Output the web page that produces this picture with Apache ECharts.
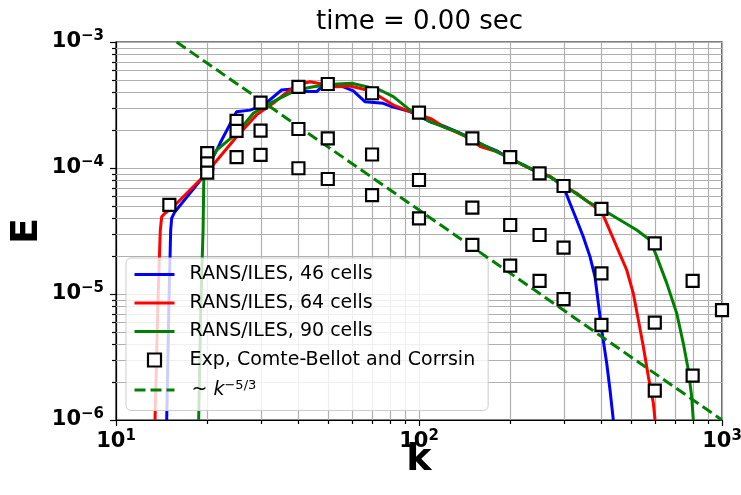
<!DOCTYPE html>
<html>
<head>
<meta charset="utf-8">
<script src="https://cdn.jsdelivr.net/npm/echarts@6/dist/echarts.min.js"></script>
<style>
  html, body { margin: 0; padding: 0; background: #fff; }
  #chart { width: 741px; height: 495px; }
</style>
</head>
<body>
<div id="chart"></div>
<script>
// Energy spectra E(k) of the three RANS/ILES grids
const k46 = [14.7, 14.96, 15.15, 15.27, 15.65, 19.4, 22.05, 25.0, 27.7, 30.7, 35.2, 37.5, 42.6, 46.0, 48.3, 56.3, 60.7, 66.3, 76.2, 81.3, 93.4, 108.7, 120.3, 133.2, 147.3, 163, 180.5, 199.7, 220.9, 244.5, 270.5, 299.4, 315, 331.5, 348.5, 366.7, 380.9, 390.7, 400.9, 416.4, 427, 437.8];
const e46 = [1.0e-6, 9.0e-6, 3.2e-5, 4.0e-5, 4.5e-5, 8.5e-5, 1.57e-4, 2.8e-4, 2.88e-4, 3.16e-4, 4.16e-4, 4.21e-4, 4.04e-4, 4.04e-4, 4.56e-4, 4.41e-4, 4.1e-4, 3.36e-4, 3.26e-4, 3.07e-4, 2.8e-4, 2.33e-4, 2.16e-4, 1.94e-4, 1.74e-4, 1.52e-4, 1.37e-4, 1.19e-4, 1.06e-4, 9.35e-5, 8.53e-5, 7.2e-5, 5.25e-5, 3.87e-5, 2.85e-5, 1.98e-5, 1.37e-5, 8.43e-6, 5.18e-6, 2.82e-6, 1.73e-6, 1.0e-6];

const k64 = [13.45, 13.76, 14.0, 14.15, 14.5, 15.46, 19.4, 25.0, 29.1, 33.0, 35.6, 39.5, 43.7, 49.6, 53.5, 59.2, 67.2, 74.3, 82.3, 93.4, 110, 120.3, 133.2, 147.3, 159.2, 180.5, 199.7, 220.9, 244.5, 270.5, 299.4, 331.5, 360, 400.9, 416.4, 449.3, 484.8, 509.7, 529.6, 550.1, 571.4, 593.5, 601.2];
const e64 = [1.0e-6, 9.0e-6, 3.2e-5, 4.1e-5, 4.37e-5, 4.93e-5, 8.53e-5, 1.77e-4, 2.64e-4, 3.26e-4, 3.79e-4, 4.56e-4, 4.84e-4, 4.56e-4, 4.41e-4, 4.48e-4, 4.16e-4, 3.68e-4, 3.16e-4, 2.8e-4, 2.45e-4, 2.13e-4, 1.92e-4, 1.72e-4, 1.48e-4, 1.35e-4, 1.2e-4, 1.05e-4, 9.4e-5, 8.6e-5, 7.3e-5, 6.3e-5, 5.42e-5, 4.5e-5, 3.64e-5, 2.37e-5, 1.55e-5, 1.01e-5, 6.22e-6, 3.82e-6, 2.21e-6, 1.36e-6, 1.0e-6];

const k90 = [18.74, 19.07, 19.38, 19.5, 21.5, 25.0, 28.4, 32.2, 35.6, 39.5, 44.8, 53.5, 60.0, 67.2, 74.3, 82.3, 93.4, 108.7, 120.3, 133.2, 147.3, 163, 180.5, 199.7, 220.9, 244.5, 270.5, 299.4, 331.5, 360, 405.8, 460.7, 523.1, 578.6, 609, 657, 708.8, 745.3, 774.2, 794.3, 804];
const e90 = [1.0e-6, 9.0e-6, 3.2e-5, 9.08e-5, 1.39e-4, 1.88e-4, 2.72e-4, 3.26e-4, 3.68e-4, 4.16e-4, 4.41e-4, 4.64e-4, 4.7e-4, 4.41e-4, 4.16e-4, 3.68e-4, 2.88e-4, 2.33e-4, 2.12e-4, 1.94e-4, 1.71e-4, 1.52e-4, 1.35e-4, 1.19e-4, 1.06e-4, 9.3e-5, 8.5e-5, 7.3e-5, 6.22e-5, 5.42e-5, 4.64e-5, 3.87e-5, 3.22e-5, 2.68e-5, 1.98e-5, 1.22e-5, 7.03e-6, 4.06e-6, 2.49e-6, 1.53e-6, 1.0e-6];

// Comte-Bellot and Corrsin measurements
const kExp = [15, 20, 20, 20, 25, 25, 25, 30, 30, 30, 40, 40, 40, 50, 50, 50, 70, 70, 70, 100, 100, 100, 150, 150, 150, 200, 200, 200, 250, 250, 250, 300, 300, 300, 400, 400, 400, 600, 600, 600, 800, 800, 1000];
const eExp = [5.1e-5, 1.31e-4, 1.09e-4, 9.2e-5, 2.37e-4, 1.97e-4, 1.22e-4, 3.3e-4, 1.98e-4, 1.27e-4, 4.41e-4, 2.04e-4, 9.95e-5, 4.64e-4, 1.72e-4, 8.18e-5, 3.92e-4, 1.28e-4, 6.1e-5, 2.75e-4, 8.03e-5, 3.99e-5, 1.72e-4, 4.84e-5, 2.45e-5, 1.22e-4, 3.53e-5, 1.68e-5, 9.08e-5, 2.94e-5, 1.27e-5, 7.2e-5, 2.33e-5, 9.1e-6, 4.73e-5, 1.46e-5, 5.68e-6, 2.52e-5, 5.92e-6, 1.71e-6, 1.27e-5, 2.25e-6, 7.46e-6];

// Kolmogorov -5/3 reference line (end points)
const kRef = [15.85, 1000];
const eRef = [1.0e-3, 1.0e-6];

// Axis ranges
const K_MIN = 10, K_MAX = 1000;
const E_MIN = 1e-6, E_MAX = 1e-3;

const seriesNames = ['RANS/ILES, 46 cells', 'RANS/ILES, 64 cells', 'RANS/ILES, 90 cells', 'Exp, Comte-Bellot and Corrsin', 'k^-5/3'];

const FONT = 'DejaVu Sans';
const GRID_COLOR = '#b0b0b0';

const zip = (xs, ys) => xs.map((x, i) => [x, ys[i]]);

// minor decade positions (2..9 within each decade)
const mult = [2, 3, 4, 5, 6, 7, 8, 9];
const kMinor = [];
const eMinor = [];
for (let d = K_MIN; d < K_MAX; d *= 10) mult.forEach(m => kMinor.push(m * d));
for (let d = E_MIN; d < E_MAX * 0.99; d *= 10) mult.forEach(m => eMinor.push(m * d));

function renderMinor(params, api) {
  const cs = params.coordSys;
  const left = cs.x, top = cs.y, right = cs.x + cs.width, bottom = cs.y + cs.height;
  const els = [];
  kMinor.forEach(k => {
    const x = Math.round(api.coord([k, E_MIN])[0]) + 0.5;
    els.push({ type: 'line', shape: { x1: x, y1: top, x2: x, y2: bottom }, style: { stroke: GRID_COLOR, lineWidth: 1.2 } });
    els.push({ type: 'line', shape: { x1: x, y1: bottom, x2: x, y2: bottom + 4 }, style: { stroke: '#000', lineWidth: 1.2 } });
  });
  eMinor.forEach(e => {
    const y = Math.round(api.coord([K_MIN, e])[1]) + 0.5;
    els.push({ type: 'line', shape: { x1: left, y1: y, x2: right, y2: y }, style: { stroke: GRID_COLOR, lineWidth: 1.2 } });
    els.push({ type: 'line', shape: { x1: left - 4, y1: y, x2: left, y2: y }, style: { stroke: '#000', lineWidth: 1.2 } });
  });
  return { type: 'group', children: els };
}

function powLabel(v) {
  const p = Math.round(Math.log10(v));
  return '{b|10}{s|' + (p < 0 ? '\u2212' : '') + Math.abs(p) + '}';
}

const tickRich = {
  b: { fontFamily: FONT, fontWeight: 'bold', fontSize: 21, color: '#000', lineHeight: 26 },
  s: { fontFamily: FONT, fontWeight: 'bold', fontSize: 15, color: '#000', verticalAlign: 'top', lineHeight: 16 }
};

const lineIcon = (color, type) => ({
  itemStyle: { opacity: 0 },
  lineStyle: { color: color, width: 3, type: type || 'solid' }
});

const chart = echarts.init(document.getElementById('chart'), null, { renderer: 'canvas' });

const option = {
  animation: false,
  backgroundColor: '#fff',
  title: {
    text: 'time = 0.00 sec',
    left: 311,
    top: 4,
    textStyle: { fontFamily: FONT, fontWeight: 'normal', fontSize: 26, color: '#000' }
  },
  grid: {
    left: 116, right: 19, top: 42, bottom: 75,
    outerBoundsMode: 'none',
    containLabel: false,
    show: true, borderColor: '#000', borderWidth: 1.2, backgroundColor: 'transparent'
  },
  legend: {
    orient: 'vertical',
    left: 126,
    top: 258,
    data: [
      Object.assign({ name: seriesNames[0] }, lineIcon('#0000ff')),
      Object.assign({ name: seriesNames[1] }, lineIcon('#ff0000')),
      Object.assign({ name: seriesNames[2] }, lineIcon('#008000')),
      {
        name: seriesNames[3],
        icon: 'path://M0,0L10,0L10,10L0,10Z',
        itemStyle: { color: '#ffffff', borderColor: '#000000', borderWidth: 2.2 }
      },
      Object.assign({ name: seriesNames[4] }, lineIcon('#008000', [11, 5]))
    ],
    itemWidth: 40,
    itemHeight: 13,
    itemGap: 9.5,
    padding: [7, 13, 11, 7],
    backgroundColor: 'rgba(255,255,255,0.8)',
    borderColor: '#cccccc',
    borderWidth: 1,
    borderRadius: 5,
    formatter: name => name === 'k^-5/3'
      ? '{t|~ }{i|k}{s|\u22125/3}'
      : '{p|' + name + '}',
    textStyle: {
      fontFamily: FONT, fontSize: 19, color: '#000',
      rich: {
        p: { fontFamily: FONT, fontSize: 19, color: '#000', lineHeight: 22, padding: [0, 0, 0, 10] },
        t: { fontFamily: FONT, fontSize: 19, color: '#000', lineHeight: 22, padding: [0, 0, 0, 12] },
        i: { fontFamily: FONT, fontSize: 19, fontStyle: 'italic', color: '#000', lineHeight: 22 },
        s: { fontFamily: FONT, fontSize: 13, color: '#000', verticalAlign: 'top', lineHeight: 14 }
      }
    }
  },
  xAxis: {
    type: 'log',
    logBase: 10,
    min: K_MIN,
    max: K_MAX,
    name: 'k',
    nameLocation: 'middle',
    nameGap: 21,
    nameMoveOverlap: false,
    nameTextStyle: { fontFamily: FONT, fontWeight: 'bold', fontSize: 38, color: '#000', verticalAlign: 'top' },
    axisLine: { show: true, lineStyle: { color: '#000', width: 1.2 } },
    axisTick: { show: true, length: 6, lineStyle: { color: '#000', width: 1.2 } },
    axisLabel: { margin: 9, formatter: powLabel, rich: tickRich },
    splitLine: { show: true, lineStyle: { color: GRID_COLOR, width: 1.2 } }
  },
  yAxis: {
    type: 'log',
    logBase: 10,
    min: E_MIN,
    max: E_MAX,
    name: 'E',
    nameLocation: 'middle',
    nameRotate: 90,
    nameGap: 70,
    nameMoveOverlap: false,
    nameTextStyle: { fontFamily: FONT, fontWeight: 'bold', fontSize: 38, color: '#000' },
    axisLine: { show: true, lineStyle: { color: '#000', width: 1.2 } },
    axisTick: { show: true, length: 6, lineStyle: { color: '#000', width: 1.2 } },
    axisLabel: { margin: 12, formatter: powLabel, rich: tickRich },
    splitLine: { show: true, lineStyle: { color: GRID_COLOR, width: 1.2 } }
  },
  series: [
    {
      type: 'custom',
      name: 'minor-grid',
      silent: true,
      z: 1,
      renderItem: renderMinor,
      data: [[K_MIN, E_MIN]]
    },
    {
      type: 'line', name: seriesNames[0], data: zip(k46, e46),
      symbol: 'none', color: '#0000ff', lineStyle: { color: '#0000ff', width: 3 }, z: 3
    },
    {
      type: 'line', name: seriesNames[1], data: zip(k64, e64),
      symbol: 'none', color: '#ff0000', lineStyle: { color: '#ff0000', width: 3 }, z: 3
    },
    {
      type: 'line', name: seriesNames[2], data: zip(k90, e90),
      symbol: 'none', color: '#008000', lineStyle: { color: '#008000', width: 3 }, z: 3
    },
    {
      type: 'scatter', name: seriesNames[3], data: zip(kExp, eExp),
      symbol: 'rect', symbolSize: 12,
      itemStyle: { color: '#ffffff', borderColor: '#000000', borderWidth: 2.2, opacity: 1 },
      z: 4
    },
    {
      type: 'line', name: seriesNames[4], data: zip(kRef, eRef),
      symbol: 'none', color: '#008000',
      lineStyle: { color: '#008000', width: 3, type: [11, 5] }, z: 4
    }
  ]
};

chart.setOption(option);
</script>
</body>
</html>
